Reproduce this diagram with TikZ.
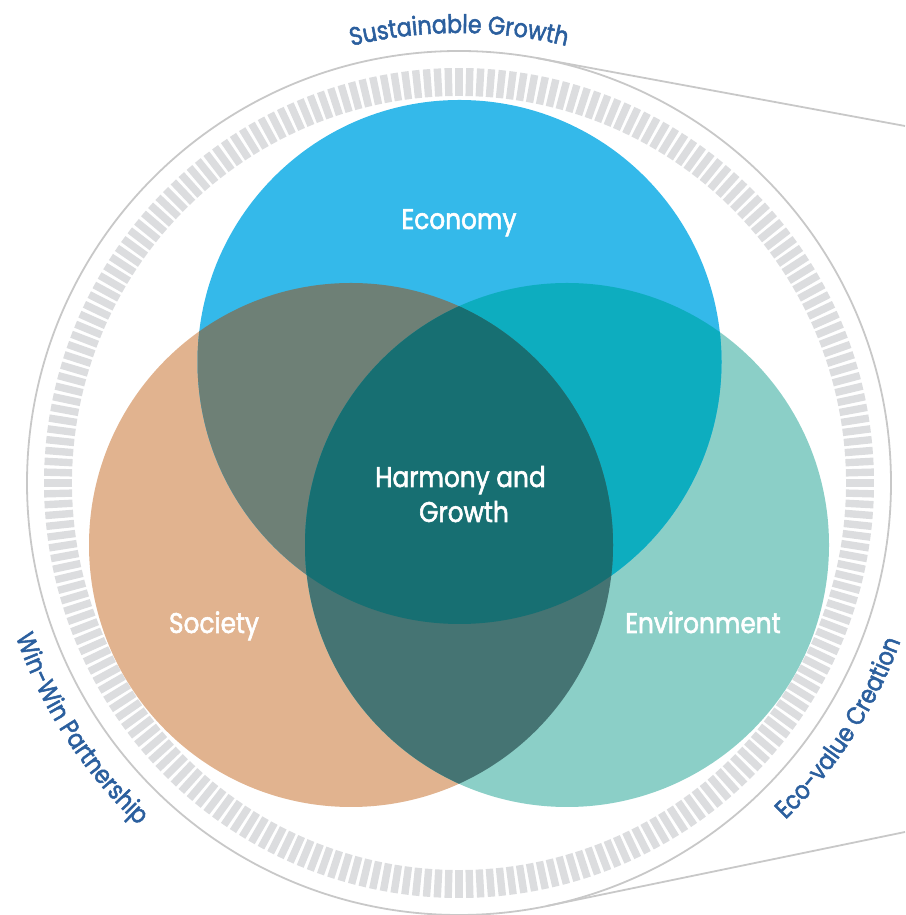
\documentclass[tikz,border=0pt]{standalone}
\usepackage{fontspec}
\setmainfont{Poppins}[FakeStretch=0.87, FakeBold=2]
\usetikzlibrary{decorations.text}
\definecolor{econ}{HTML}{34B9EA}
\definecolor{soc}{HTML}{E1B38F}
\definecolor{env}{HTML}{8BCFC7}
\definecolor{es}{HTML}{6E8076}
\definecolor{en}{HTML}{0DADBF}
\definecolor{sn}{HTML}{457473}
\definecolor{esn}{HTML}{176F72}
\definecolor{ringgray}{HTML}{C8C8C8}
\definecolor{tickgray}{HTML}{DCDDDF}
\definecolor{lbl}{HTML}{2B5F9E}
\newcommand{\arcfont}{\fontsize{25.5}{30}\selectfont}
\tikzset{
  lab/.style={text=white, font=\fontsize{28.5}{34}\selectfont, inner sep=0pt, anchor=base},
  tickmark/.style={draw=tickgray, line width=7.4pt},
  rimline/.style={draw=ringgray, line width=1.8pt},
  arclabel/.style={decorate, decoration={text along path, text align=center,
      text color=lbl, text={|\arcfont|#1}}}
}
\begin{document}
\begin{tikzpicture}[x=1pt,y=1pt]
\useasboundingbox (0,0) rectangle (905,915);
\coordinate (C) at (459,432);
\coordinate (cE) at (459.5,553);
\coordinate (cS) at (351,370);
\coordinate (cN) at (567,370);

% tick ring
\begin{scope}[shift={(C)}]
  \foreach \a in {0,1.5,...,358.5}
    \draw[tickmark] (\a:387) -- (\a:415);
  \coordinate (tA) at (79.5:432);
  \coordinate (tB) at (-78.3:432);
\end{scope}

% outer rim and callout lines
\draw[rimline] (C) circle[radius=432];
\coordinate (pA) at (905,789);
\coordinate (pB) at (905,83);
\draw[rimline] (tA) -- (pA);
\draw[rimline] (tB) -- (pB);

% Venn circles
\fill[soc] (cS) circle[radius=262];
\fill[env] (cN) circle[radius=262];
\fill[econ] (cE) circle[radius=262];
\begin{scope}
  \clip (cE) circle[radius=262];
  \fill[es] (cS) circle[radius=262];
  \fill[en] (cN) circle[radius=262];
\end{scope}
\begin{scope}
  \clip (cS) circle[radius=262];
  \fill[sn] (cN) circle[radius=262];
  \clip (cE) circle[radius=262];
  \fill[esn] (cN) circle[radius=262];
\end{scope}

% labels
\node[lab] (econlab) at (459,686) {Economy};
\node[lab] (hg1) at (460.5,428) {Harmony and};
\node[lab] (hg2) at (464,393) {Growth};
\node[lab] (soclab) at (214,282) {Society};
\node[lab] (envlab) at (703,282) {Environment};

% curved labels
\begin{scope}[shift={(C)}]
  \path[arclabel={Sustainable Growth}] (130:450) arc[start angle=130, end angle=50, radius=450];
  \path[arclabel={Win-Win Partnership}] (173:469) arc[start angle=173, end angle=253, radius=469];
  \path[arclabel={Eco-value Creation}] (-72.8:469) arc[start angle=-72.8, end angle=7.2, radius=469];
\end{scope}
\end{tikzpicture}
\end{document}
